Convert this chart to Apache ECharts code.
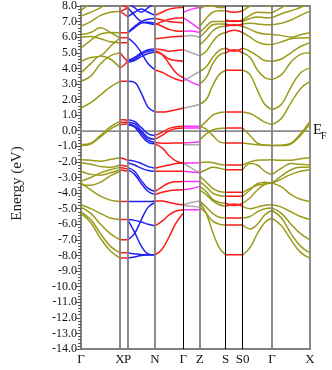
<!DOCTYPE html>
<html>
<head>
<meta charset="utf-8">
<script src="https://cdn.jsdelivr.net/npm/echarts@6/dist/echarts.min.js"></script>
<style>
  html, body { margin: 0; padding: 0; background: #fff; }
  #chart { width: 332px; height: 370px; }
</style>
</head>
<body>
<div id="chart"></div>
<script>
// high symmetry points along the k-path
const kLabels = ['Γ', 'X', 'P', 'N', 'Γ', 'Z', 'S', 'S0', 'Γ', 'X'];
const kDist = [0, 39, 46.7, 74, 102.3, 118.7, 144.7, 161.7, 191, 229];

// each row = band energies (eV) sampled evenly along one segment
const bandsGX = [
  [1.46, 1.8, 2.3, 2.8, 3.17], [3.17, 3.5, 4.3, 4.8, 5.0], [3.7, 4.3, 4.8, 4.6, 4.03],
  [4.45, 4.7, 4.8, 5.4, 5.96], [5.3, 5.8, 6.2, 6.3, 6.28], [6.0, 6.05, 5.9, 5.7, 5.64],
  [6.17, 6.3, 6.6, 6.3, 5.96], [6.7, 7.0, 7.4, 7.6, 7.67], [7.35, 7.6, 7.9, 8.3, 8.6],
  [7.7, 8.2, 8.6, 8.6, 8.5],
  [-0.9, -0.8, -0.3, 0.25, 0.6], [-0.95, -0.85, -0.4, 0.1, 0.45],
  [-1.86, -1.9, -1.95, -1.85, -1.73], [-2.07, -2.15, -2.3, -2.35, -2.2],
  [-2.6, -2.8, -2.85, -2.7, -2.5], [-3.25, -3.0, -2.7, -2.5, -2.35],
  [-3.46, -3.5, -3.3, -2.9, -2.6], [-3.35, -3.8, -4.2, -4.45, -4.54],
  [-4.75, -5.0, -5.3, -5.6, -5.7], [-4.9, -5.3, -6.0, -6.6, -7.0],
  [-5.2, -5.7, -6.6, -7.4, -7.83], [-5.3, -5.9, -6.9, -7.7, -8.17]
];
const bandsXP = [
  [7.67, 7.75, 7.9], [7.67, 7.5, 7.3], [8.2, 8.0, 7.9], [6.28, 6.28, 6.28],
  [5.96, 5.96, 5.96], [5.64, 5.64, 5.64], [5.0, 4.7, 4.45], [4.03, 4.2, 4.45],
  [3.17, 3.17, 3.17], [0.71, 0.7, 0.65], [0.39, 0.42, 0.45], [0.55, 0.55, 0.55],
  [-1.73, -1.8, -1.9], [-2.2, -2.25, -2.3], [-2.35, -2.4, -2.45], [-2.5, -2.55, -2.6],
  [-4.54, -4.54, -4.54], [-5.7, -5.7, -5.7], [-7.0, -7.0, -7.0],
  [-7.83, -7.83, -7.83], [-8.17, -8.17, -8.17]
];
const bandsPN = [
  [3.17, 3.1, 2.4, 1.5, 1.2], [4.45, 4.6, 4.9, 5.1, 5.15], [4.4, 4.5, 4.75, 4.95, 5.05],
  [4.5, 4.7, 5.0, 5.2, 5.25], [5.96, 5.6, 5.0, 4.3, 3.9], [6.28, 6.6, 6.9, 6.95, 6.9],
  [6.28, 6.7, 7.0, 7.15, 7.2], [7.9, 7.4, 7.0, 6.9, 6.8], [7.3, 7.6, 7.8, 7.6, 7.4],
  [8.2, 7.9, 7.6, 7.9, 8.2],
  [0.71, 0.6, 0.2, -0.2, -0.3], [0.55, 0.45, 0.0, -0.45, -0.55],
  [0.45, 0.3, -0.15, -0.6, -0.75], [0.39, 0.25, -0.3, -0.75, -0.84],
  [-1.9, -1.95, -2.1, -2.3, -2.4], [-2.05, -2.2, -2.4, -2.55, -2.6],
  [-2.35, -2.6, -3.2, -3.7, -3.9], [-2.5, -2.8, -3.4, -3.9, -4.1],
  [-4.54, -4.54, -4.54, -4.54, -4.5], [-5.7, -5.75, -5.85, -6.0, -6.1],
  [-5.7, -6.5, -7.4, -7.9, -7.96], [-7.0, -6.6, -5.7, -4.9, -4.6],
  [-7.83, -7.9, -7.95, -7.96, -7.96], [-8.17, -8.1, -8.0, -7.97, -7.96]
];
const bandsNG = [
  [1.2, 1.2, 1.25, 1.35, 1.46], [3.9, 3.75, 3.5, 3.3, 3.17], [5.15, 4.9, 4.3, 3.7, 3.4],
  [5.05, 4.9, 4.6, 4.5, 4.46], [5.25, 5.2, 5.1, 5.15, 5.2], [5.9, 5.95, 6.0, 6.05, 6.06],
  [6.9, 6.7, 6.5, 6.4, 6.38], [7.2, 7.1, 7.0, 6.95, 6.92], [6.8, 7.0, 7.15, 7.22, 7.24],
  [7.4, 7.6, 7.8, 7.88, 7.9], [8.2, 8.1, 8.2, 8.3, 8.3],
  [-0.3, -0.1, 0.15, 0.25, 0.28], [-0.55, -0.3, 0.0, 0.15, 0.18],
  [-0.75, -0.8, -0.8, -0.79, -0.79], [-0.84, -1.1, -1.6, -1.95, -2.07],
  [-2.4, -2.3, -2.2, -2.1, -2.07], [-2.6, -2.6, -2.6, -2.6, -2.6],
  [-3.9, -3.6, -3.35, -3.27, -3.25], [-4.1, -3.95, -3.85, -3.8, -3.79],
  [-4.5, -4.5, -4.6, -4.7, -4.75], [-6.1, -5.8, -5.4, -5.15, -5.07],
  [-7.96, -7.6, -6.8, -5.9, -5.3]
];
const bandsGZpink = [
  [7.6, 7.8, 7.9], [7.24, 6.9, 6.5], [6.38, 6.4, 6.3], [3.4, 3.1, 2.9], [0.18, 0.18, 0.18],
  [0.28, 0.28, 0.28], [-0.79, -0.75, -0.7], [-2.07, -2.07, -2.06], [-2.6, -2.65, -2.7],
  [-3.25, -3.25, -3.25], [-3.79, -3.7, -3.57], [-5.07, -5.07, -5.07]
];
const bandsGZgray = [
  [6.06, 6.1, 6.0], [5.2, 5.0, 4.8], [3.17, 3.5, 3.8], [1.46, 1.55, 1.7],
  [-0.9, -0.9, -0.88], [-2.07, -2.4, -2.7], [-4.75, -4.6, -4.5], [-4.8, -4.85, -4.9]
];
const bandsZS = [
  [0.2, 0.6, 1.0, 1.15, 1.2], [1.7, 2.0, 2.9, 3.6, 3.88], [3.0, 3.4, 4.3, 4.85, 5.0],
  [3.8, 4.1, 4.7, 5.15, 5.3], [4.8, 5.1, 5.7, 6.15, 6.3], [5.5, 5.9, 6.4, 6.65, 6.7],
  [6.0, 6.4, 6.8, 6.85, 6.85], [6.3, 6.7, 7.0, 7.0, 7.0], [6.7, 7.2, 7.6, 7.7, 7.7],
  [7.8, 8.0, 8.0, 7.9, 7.9],
  [0.28, 0.1, -0.3, -0.7, -0.79], [-0.6, -0.2, 0.05, 0.15, 0.18],
  [-2.06, -2.0, -2.05, -2.15, -2.2], [-2.7, -2.5, -2.35, -2.4, -2.5],
  [-2.9, -3.3, -3.7, -3.9, -3.95], [-3.25, -3.6, -4.0, -4.15, -4.2],
  [-3.57, -3.9, -4.4, -4.6, -4.65], [-3.79, -4.1, -4.5, -4.75, -4.85],
  [-4.5, -4.9, -5.3, -5.55, -5.6], [-4.9, -5.3, -5.8, -6.0, -6.05],
  [-4.6, -5.3, -6.5, -7.5, -7.96]
];
const bandsSS0 = [
  [1.2, 1.2, 1.2], [3.88, 3.88, 3.88], [5.0, 5.2, 5.0], [5.3, 5.1, 5.3],
  [6.3, 6.45, 6.3], [6.7, 6.8, 6.7], [6.85, 6.75, 6.85], [7.0, 7.05, 7.0],
  [7.1, 7.0, 7.1], [7.7, 7.6, 7.7], [0.18, 0.18, 0.18],
  [-0.79, -0.79, -0.79], [-2.2, -2.2, -2.2], [-2.5, -2.5, -2.5],
  [-3.95, -3.95, -3.95], [-4.2, -4.2, -4.2], [-4.65, -4.8, -4.65], [-4.85, -4.7, -4.85],
  [-5.6, -5.6, -5.6], [-6.05, -6.05, -6.05], [-7.96, -7.96, -7.96]
];
const bandsS0G = [
  [1.2, 1.1, 0.85, 0.55, 0.39], [3.88, 3.6, 2.6, 1.7, 1.35], [5.0, 4.7, 3.9, 3.4, 3.28],
  [5.3, 5.1, 4.8, 4.5, 4.45], [6.3, 6.0, 5.7, 5.55, 5.53], [6.7, 6.5, 6.3, 6.2, 6.17],
  [6.85, 6.9, 6.85, 6.8, 6.8], [7.0, 7.2, 7.3, 7.25, 7.24], [7.1, 7.4, 7.6, 7.58, 7.56],
  [7.7, 8.0, 8.2, 8.1, 8.0],
  [0.18, -0.3, -0.8, -0.92, -0.94], [-0.79, -0.85, -0.9, -0.93, -0.94],
  [-2.2, -2.0, -1.9, -1.88, -1.86], [-2.5, -2.1, -2.2, -2.6, -2.82],
  [-3.95, -3.7, -3.5, -3.4, -3.36], [-4.2, -3.8, -3.4, -3.3, -3.36],
  [-4.65, -4.3, -3.8, -3.45, -3.36], [-4.85, -5.0, -4.9, -4.78, -4.75],
  [-5.6, -5.5, -5.2, -5.0, -4.95], [-6.05, -6.3, -6.0, -5.4, -5.1],
  [-7.96, -7.5, -6.6, -5.9, -5.6]
];
const bandsGX2 = [
  [0.39, 0.8, 1.8, 2.7, 3.17], [1.35, 1.7, 2.8, 3.7, 4.03], [3.28, 3.6, 4.4, 4.9, 5.0],
  [4.45, 4.6, 5.0, 5.4, 5.64], [5.53, 5.7, 5.9, 5.95, 5.96], [6.17, 6.1, 6.0, 6.15, 6.28],
  [6.8, 6.9, 7.1, 7.4, 7.67], [7.24, 7.5, 7.7, 7.9, 8.2], [7.56, 7.9, 8.2, 8.4, 8.5],
  [-0.94, -0.93, -0.8, -0.2, 0.6], [-0.94, -0.95, -0.85, -0.3, 0.45],
  [-1.86, -1.9, -1.9, -1.8, -1.73], [-2.82, -2.4, -2.1, -2.15, -2.2],
  [-3.36, -2.9, -2.5, -2.35, -2.35], [-3.36, -3.1, -2.8, -2.6, -2.5],
  [-3.36, -3.6, -4.1, -4.4, -4.54], [-4.75, -4.9, -5.2, -5.5, -5.7],
  [-4.95, -5.3, -6.0, -6.6, -7.0], [-5.1, -5.6, -6.6, -7.4, -7.83],
  [-5.6, -6.1, -7.0, -7.8, -8.17]
];

const olive = '#9b9b1a', red = '#ff1a1a', blue = '#2020f0', pink = '#ff30ff', grey = '#aaaaaa';
const serif = 'Liberation Serif, Times New Roman, serif';

function bandSeries (bands, i0, i1, color) {
  let k0 = kDist[i0], k1 = kDist[i1]
  return bands.map(b => ({
    type: 'line',
    smooth: 0.4,
    symbol: 'none',
    silent: true,
    z: 2,
    lineStyle: { color: color, width: 1.5 },
    data: b.map((e, j) => [k0 + (k1 - k0) * j / (b.length - 1), e])
  }))
}

// which k-points get the heavier grey divider (others thin black)
const greyLines = [1, 2, 3, 5, 8];
const dividers = kDist.slice(1, -1).map((k, i) => {
  let idx = i + 1
  let isGrey = greyLines.indexOf(idx) >= 0
  return { xAxis: k, lineStyle: { color: isGrey ? '#808080' : '#000', width: isGrey ? 1.8 : 1, type: 'solid' } }
});

let series = [].concat(
  bandSeries(bandsGX, 0, 1, olive),
  bandSeries(bandsXP, 1, 2, red),
  bandSeries(bandsPN, 2, 3, blue),
  bandSeries(bandsNG, 3, 4, red),
  bandSeries(bandsGZgray, 4, 5, grey),
  bandSeries(bandsGZpink, 4, 5, pink),
  bandSeries(bandsZS, 5, 6, olive),
  bandSeries(bandsSS0, 6, 7, red),
  bandSeries(bandsS0G, 7, 8, olive),
  bandSeries(bandsGX2, 8, 9, olive)
);
// Fermi level + k-point dividers
series.push({
  type: 'line',
  symbol: 'none',
  silent: true,
  z: 1,
  lineStyle: { color: '#b8b8b8', width: 1 },
  data: [[kDist[0], 0], [kDist[kDist.length - 1], 0]]
});
series.push({
  type: 'line',
  symbol: 'none',
  silent: true,
  z: 5,
  data: [],
  markLine: { symbol: 'none', silent: true, label: { show: false }, animation: false, data: dividers }
});

let chart = echarts.init(document.getElementById('chart'));
chart.setOption({
  animation: false,
  grid: { left: 81, right: 22, top: 6, bottom: 21, show: true, borderColor: '#808080', borderWidth: 1.8 },
  xAxis: {
    type: 'value',
    min: kDist[0],
    max: kDist[kDist.length - 1],
    axisLine: { show: true, lineStyle: { color: '#808080', width: 1.8 } },
    axisTick: { show: false },
    splitLine: { show: false },
    axisLabel: {
      customValues: kDist,
      formatter: v => kLabels[kDist.indexOf(v)],
      color: '#111',
      fontFamily: serif,
      fontSize: 13,
      margin: 4
    }
  },
  yAxis: {
    type: 'value',
    min: -14,
    max: 8,
    interval: 1,
    name: 'Energy (eV)',
    nameLocation: 'middle',
    nameGap: 56,
    nameTextStyle: { fontFamily: serif, fontSize: 15, color: '#222', padding: [0, 12, 0, 0] },
    axisLine: { show: true, lineStyle: { color: '#808080', width: 1.8 } },
    axisTick: { show: true, length: 5, lineStyle: { color: '#555' } },
    minorTick: { show: true, splitNumber: 5, length: 3, lineStyle: { color: '#555' } },
    splitLine: { show: false },
    axisLabel: {
      formatter: v => v.toFixed(1),
      color: '#111',
      fontFamily: serif,
      fontSize: 12,
      margin: 4
    }
  },
  graphic: [
    { type: 'text', left: 313, top: 123, style: { text: 'E', font: '15px ' + serif, fill: '#111' } },
    { type: 'text', left: 321, top: 131, style: { text: 'F', font: '10px ' + serif, fill: '#111' } }
  ],
  series: series
});
</script>
</body>
</html>
